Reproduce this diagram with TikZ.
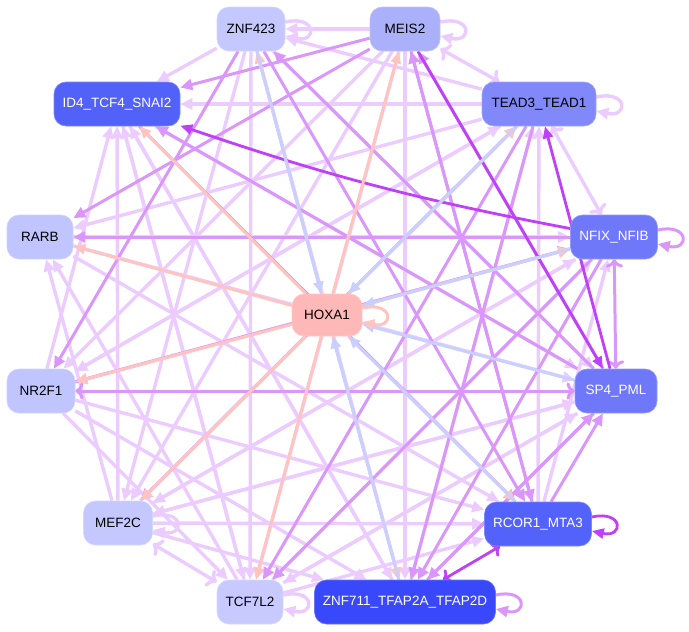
\documentclass[tikz,border=0pt]{standalone}
\usepackage{fontspec}
\setmainfont{Liberation Sans}
\usetikzlibrary{arrows.meta,backgrounds}
\definecolor{lt}{RGB}{236,204,255}
\definecolor{md}{RGB}{218,150,250}
\definecolor{st}{RGB}{192,64,248}
\definecolor{hout}{RGB}{255,196,192}
\definecolor{hin}{RGB}{200,208,255}
\definecolor{cznf}{RGB}{197,200,255}
\definecolor{cmeis}{RGB}{170,176,250}
\definecolor{cid}{RGB}{82,98,248}
\definecolor{ctead}{RGB}{128,136,250}
\definecolor{crarb}{RGB}{192,196,255}
\definecolor{cnfix}{RGB}{112,120,250}
\definecolor{chox}{RGB}{255,184,184}
\definecolor{csp}{RGB}{112,120,250}
\definecolor{crcor}{RGB}{82,98,250}
\definecolor{ctcf}{RGB}{200,202,255}
\definecolor{czn}{RGB}{56,72,250}
\tikzset{
	gene/.style={rounded corners=12pt,minimum height=44pt,inner sep=2pt,font=\fontsize{13.5}{16}\selectfont,draw=#1!75!white,fill=#1,line width=0.6pt},
	lite/.style={draw=lt,line width=3.4pt,-{Triangle[length=12pt,width=11pt]}},
	mid/.style={draw=md,line width=3pt,-{Triangle[length=12pt,width=11pt]}},
	strong/.style={draw=st,line width=2.8pt,-{Triangle[length=12pt,width=10pt]}},
	hoxout/.style={draw=hout,line width=3pt,-{Triangle[length=12pt,width=10pt]}},
	hoxin/.style={draw=hin,line width=3pt,-{Triangle[length=12pt,width=10pt]}},
	selfloop/.style={to path={([yshift=7pt]\tikztostart.east) .. controls +(32pt,7pt) and +(32pt,-7pt) .. ([yshift=-7pt]\tikztostart.east)}}
}
\begin{document}
\begin{tikzpicture}[x=1pt,y=-1pt]
	\useasboundingbox (0,0) rectangle (689,632);
	% genes
	\node[gene=cznf,minimum width=68pt] (znf) at (251,29) {ZNF423};
	\node[gene=cmeis,minimum width=70pt] (meis) at (405,29) {MEIS2};
	\node[gene=cid,minimum width=126pt,text=white] (id4) at (117,104) {ID4\_TCF4\_SNAI2};
	\node[gene=ctead,minimum width=114pt] (tead) at (539,104) {TEAD3\_TEAD1};
	\node[gene=crarb,minimum width=66pt] (rarb) at (40,237) {RARB};
	\node[gene=cnfix,minimum width=87pt,text=white] (nfix) at (614,237) {NFIX\_NFIB};
	\node[gene=chox,minimum width=70pt,minimum height=42pt] (hox) at (327,315) {HOXA1};
	\node[gene=crarb,minimum width=68pt] (nr2) at (41,391) {NR2F1};
	\node[gene=csp,minimum width=82pt,text=white] (sp4) at (616,391) {SP4\_PML};
	\node[gene=cznf,minimum width=69pt] (mef) at (118,523) {MEF2C};
	\node[gene=crcor,minimum width=107pt,text=white] (rcor) at (538,524) {RCOR1\_MTA3};
	\node[gene=ctcf,minimum width=66pt] (tcf) at (250,602) {TCF7L2};
	\node[gene=czn,minimum width=181pt,text=white] (z711) at (405,602) {ZNF711\_TFAP2A\_TFAP2D};
	\begin{scope}[on background layer]
	% weak links
	\foreach \a/\b in {meis/znf,tead/znf,znf/id4,tead/id4,mef/id4,tcf/id4,nr2/id4,z711/id4,
		tead/rarb,rarb/sp4,mef/rarb,tcf/rarb,meis/nr2,tead/nr2,nfix/nr2,
		znf/mef,meis/mef,nfix/mef,sp4/mef,id4/tcf,znf/tcf,meis/tcf,sp4/tcf,nr2/tcf,
		meis/z711,znf/z711,id4/z711,nr2/z711,mef/z711,z711/tead,
		rarb/rcor,nr2/rcor,mef/rcor,tcf/rcor,rcor/tead,rcor/nfix,
		mef/tead,nr2/tead,mef/nfix,rarb/nfix,mef/sp4,tcf/sp4,id4/sp4,znf/sp4,tcf/nfix}
		\draw[lite] (\a) -- (\b);
	\draw[lite,<->] (meis) -- (tead);
	\draw[lite,<->] (tead) -- (nfix);
	\draw[lite,<->] (mef) -- (tcf);
	% medium links
	\foreach \a/\b in {meis/id4,sp4/id4,meis/rarb,nfix/rarb,znf/nr2,sp4/znf,
		tead/mef,tead/tcf,nfix/tcf,tead/z711,nfix/z711,sp4/z711,z711/sp4,
		znf/rcor,meis/rcor,id4/rcor,rcor/sp4,rcor/meis,sp4/meis,nr2/nfix}
		\draw[mid] (\a) -- (\b);
	\draw[mid,<->] (nr2) -- (sp4);
	\draw[mid,<->] (nfix) -- (sp4);
	% strong links
	\draw[strong] (nfix) to[bend left=4] (id4);
	\draw[strong] (sp4) -- (tead);
	\draw[strong] (meis) -- (sp4);
	\draw[strong,<->] (rcor) -- (z711);
	% HOXA1
	\foreach \b in {id4,rarb,nr2,mef,tcf,z711,rcor,nfix,tead,meis,znf}
		\draw[hoxout] (hox) -- (\b);
	\foreach \a in {znf,tead,nfix,sp4,z711,rcor}
		\draw[hoxin] (\a) -- (hox);
	% self loops
	\draw[lite] (znf) to[selfloop] (znf);
	\draw[lite] (meis) to[selfloop] (meis);
	\draw[lite] (tead) to[selfloop] (tead);
	\draw[mid] (nfix) to[selfloop] (nfix);
	\draw[hoxout] (hox) to[selfloop] (hox);
	\draw[lite] (mef) to[selfloop] (mef);
	\draw[lite] (tcf) to[selfloop] (tcf);
	\draw[mid] (z711) to[selfloop] (z711);
	\draw[strong] (rcor) to[selfloop] (rcor);
	\end{scope}
\end{tikzpicture}
\end{document}
